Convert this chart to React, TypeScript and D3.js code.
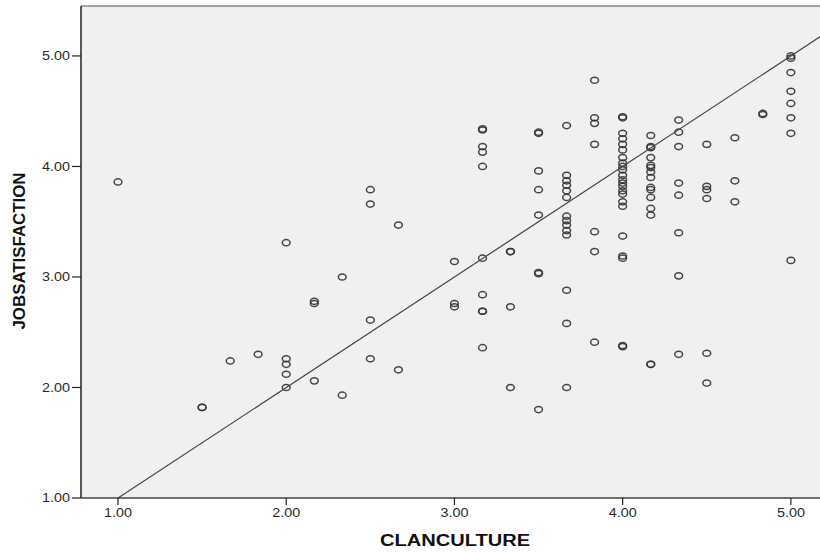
import * as d3 from 'd3';

const WIDTH = 820;
const HEIGHT = 552;
const PLOT = { left: 81, top: 6, right: 822, bottom: 498 };

// x values are the discrete CLANCULTURE scores (sixths), y the JOBSATISFACTION score
const clanCulture = [
  1.0,
  1.5, 1.5,
  1.667,
  1.833,
  2.0, 2.0, 2.0, 2.0, 2.0,
  2.167, 2.167, 2.167,
  2.333, 2.333,
  2.5, 2.5, 2.5, 2.5,
  2.667, 2.667,
  3.0, 3.0, 3.0,
  3.167, 3.167, 3.167, 3.167, 3.167, 3.167, 3.167, 3.167, 3.167, 3.167,
  3.333, 3.333, 3.333, 3.333,
  3.5, 3.5, 3.5, 3.5, 3.5, 3.5, 3.5, 3.5,
  3.667, 3.667, 3.667, 3.667, 3.667, 3.667, 3.667, 3.667, 3.667, 3.667, 3.667, 3.667, 3.667, 3.667,
  3.833, 3.833, 3.833, 3.833, 3.833, 3.833, 3.833,
  4.0, 4.0, 4.0, 4.0, 4.0, 4.0, 4.0, 4.0, 4.0, 4.0, 4.0, 4.0, 4.0, 4.0, 4.0, 4.0, 4.0, 4.0, 4.0, 4.0, 4.0, 4.0, 4.0,
  4.167, 4.167, 4.167, 4.167, 4.167, 4.167, 4.167, 4.167, 4.167, 4.167, 4.167, 4.167, 4.167, 4.167, 4.167,
  4.333, 4.333, 4.333, 4.333, 4.333, 4.333, 4.333, 4.333,
  4.5, 4.5, 4.5, 4.5, 4.5, 4.5,
  4.667, 4.667, 4.667,
  4.833, 4.833,
  5.0, 5.0, 5.0, 5.0, 5.0, 5.0, 5.0, 5.0,
];

const jobSatisfaction = [
  3.86,
  1.82, 1.82,
  2.24,
  2.30,
  3.31, 2.26, 2.21, 2.12, 2.00,
  2.78, 2.76, 2.06,
  3.00, 1.93,
  3.79, 3.66, 2.61, 2.26,
  3.47, 2.16,
  3.14, 2.76, 2.73,
  4.34, 4.33, 4.18, 4.13, 4.00, 3.17, 2.84, 2.69, 2.69, 2.36,
  3.23, 3.23, 2.73, 2.00,
  4.31, 4.30, 3.96, 3.79, 3.56, 3.04, 3.03, 1.80,
  4.37, 3.92, 3.87, 3.83, 3.78, 3.72, 3.55, 3.51, 3.47, 3.42, 3.38, 2.88, 2.58, 2.00,
  4.78, 4.44, 4.39, 4.20, 3.41, 3.23, 2.41,
  4.45, 4.44, 4.30, 4.25, 4.20, 4.15, 4.08, 4.03, 4.00, 3.97, 3.92, 3.88, 3.85, 3.82, 3.78, 3.75, 3.68, 3.64, 3.37, 3.19, 3.17, 2.38, 2.37,
  4.28, 4.18, 4.17, 4.08, 4.01, 3.99, 3.95, 3.90, 3.81, 3.79, 3.72, 3.62, 3.56, 2.21, 2.21,
  4.42, 4.31, 4.18, 3.85, 3.74, 3.40, 3.01, 2.30,
  4.20, 3.82, 3.79, 3.71, 2.31, 2.04,
  4.26, 3.87, 3.68,
  4.48, 4.47,
  5.00, 4.98, 4.85, 4.68, 4.57, 4.44, 4.30, 3.15,
];

const xTicks = [1, 2, 3, 4, 5];
const yTicks = [1, 2, 3, 4, 5];

// fit line: y = intercept + slope * x
const FIT_INTERCEPT = 0.0;
const FIT_SLOPE = 1.0;

const FONT = '"Liberation Sans", Arial, sans-serif';

const App = () => {
  const xScale = d3.scaleLinear().domain([0.78, 5.185]).range([PLOT.left, PLOT.right]);
  const yScale = d3.scaleLinear().domain([1, 5.452]).range([PLOT.bottom, PLOT.top]);

  const [xMin, xMax] = xScale.domain();
  const fitPoints: [number, number][] = [xMin, xMax].map((v) => [
    xScale(v),
    yScale(FIT_INTERCEPT + FIT_SLOPE * v),
  ]);
  const fitPath = d3.line()(fitPoints) ?? '';

  const points = clanCulture.map((x, i) => ({ x, y: jobSatisfaction[i] }));

  return (
    <svg
      width={WIDTH}
      height={HEIGHT}
      style={{ position: 'absolute', left: 0, top: 0, background: '#fff' }}
    >
      <defs>
        <clipPath id="plot-clip">
          <rect
            x={PLOT.left}
            y={PLOT.top}
            width={PLOT.right - PLOT.left}
            height={PLOT.bottom - PLOT.top}
          />
        </clipPath>
      </defs>

      {/* plot background and frame */}
      <rect
        x={PLOT.left}
        y={PLOT.top}
        width={PLOT.right - PLOT.left}
        height={PLOT.bottom - PLOT.top}
        fill="#f0f0f0"
      />
      <line x1={PLOT.left} x2={PLOT.right} y1={PLOT.top} y2={PLOT.top} stroke="#8a8a8a" strokeWidth={1.5} />

      {/* points */}
      <g clipPath="url(#plot-clip)">
        {points.map((p, i) => (
          <ellipse
            key={i}
            cx={xScale(p.x)}
            cy={yScale(p.y)}
            rx={3.9}
            ry={3.1}
            fill="none"
            stroke="#333"
            strokeWidth={1.5}
            strokeOpacity={0.9}
          />
        ))}
        <path d={fitPath} stroke="#444" strokeWidth={1.2} fill="none" />
      </g>

      {/* y axis */}
      <line x1={PLOT.left} x2={PLOT.left} y1={PLOT.top} y2={PLOT.bottom} stroke="#222" strokeWidth={1.5} />
      {yTicks.map((t) => (
        <g key={t} transform={`translate(0,${yScale(t)})`}>
          <line x1={PLOT.left - 9} x2={PLOT.left} stroke="#222" strokeWidth={1.2} />
          <text
            x={70}
            dy="0.35em"
            textAnchor="end"
            fontFamily={FONT}
            fontSize={12}
            fill="#2a2a2a"
            textLength={28}
            lengthAdjust="spacingAndGlyphs"
          >
            {t.toFixed(2)}
          </text>
        </g>
      ))}

      {/* x axis */}
      <line x1={PLOT.left} x2={PLOT.right} y1={PLOT.bottom} y2={PLOT.bottom} stroke="#444" strokeWidth={1.5} />
      {xTicks.map((t) => (
        <g key={t} transform={`translate(${xScale(t)},0)`}>
          <line y1={PLOT.bottom} y2={PLOT.bottom + 7} stroke="#222" strokeWidth={1.2} />
          <text
            y={517}
            textAnchor="middle"
            fontFamily={FONT}
            fontSize={12}
            fill="#2a2a2a"
            textLength={28}
            lengthAdjust="spacingAndGlyphs"
          >
            {t.toFixed(2)}
          </text>
        </g>
      ))}

      {/* axis titles */}
      <text
        x={455}
        y={546}
        textAnchor="middle"
        fontFamily={FONT}
        fontWeight="bold"
        fontSize={16}
        fill="#111"
        textLength={150}
        lengthAdjust="spacingAndGlyphs"
      >
        CLANCULTURE
      </text>
      <text
        transform="translate(25,251) rotate(-90)"
        textAnchor="middle"
        fontFamily={FONT}
        fontWeight="bold"
        fontSize={16}
        fill="#111"
        textLength={157}
        lengthAdjust="spacingAndGlyphs"
      >
        JOBSATISFACTION
      </text>
    </svg>
  );
};

export default App;
